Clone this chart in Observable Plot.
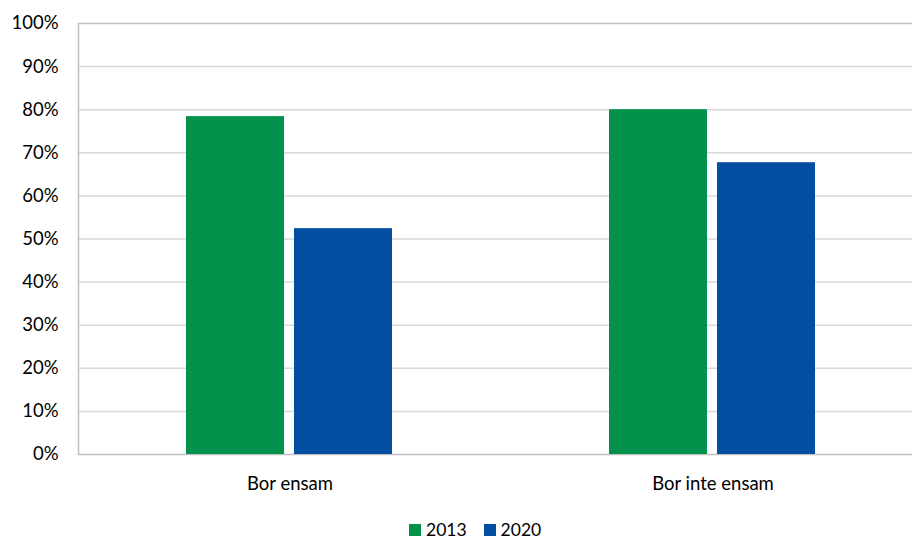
<!DOCTYPE html>
<html>
<head>
<meta charset="utf-8">
<script src="https://cdn.jsdelivr.net/npm/d3@7"></script>
<script src="https://cdn.jsdelivr.net/npm/@observablehq/plot@0.6"></script>
<style>
  html, body { margin: 0; padding: 0; background: #fff; overflow: hidden; }
  #wrap { position: relative; width: 912px; height: 541px; font-family: Lato, "Open Sans", sans-serif; }
  #wrap svg { position: absolute; left: 0; top: 0; }
  #legend { position: absolute; left: 409px; top: 521px; display: flex; align-items: center; font-size: 17.5px; line-height: 18px; color: #000; }
  .item { display: flex; align-items: center; margin-right: 17px; }
  .sw { width: 12px; height: 12px; margin-right: 5px; }
</style>
</head>
<body>
<div id="wrap"></div>
<script>
const categories = ["Bor ensam", "Bor inte ensam"];
const years = ["2013", "2020"];
const values2013 = [0.784, 0.800];
const values2020 = [0.524, 0.677];
const yTicks = [0, 0.1, 0.2, 0.3, 0.4, 0.5, 0.6, 0.7, 0.8, 0.9, 1.0];
const colors = ["#03924b", "#044ea2"];

const data = categories.flatMap((c, i) => [
  {category: c, year: years[0], value: values2013[i]},
  {category: c, year: years[1], value: values2020[i]}
]);

const W = 912, H = 500;
const common = {
  width: W, height: H,
  marginLeft: 78, marginRight: -12, marginTop: 23, marginBottom: 46
};

// Base layer: frame, grid, axes
const base = Plot.plot({
  ...common,
  style: {fontFamily: "Lato, 'Open Sans', sans-serif", fontSize: "18.5px", color: "#000", background: "transparent", overflow: "visible"},
  x: {type: "band", domain: categories, paddingInner: 0.511, paddingOuter: 0.2555, label: null, axis: null},
  y: {domain: [0, 1], label: null, axis: null},
  marks: [
    Plot.ruleY(yTicks.slice(1, -1), {stroke: "#d9d9d9", strokeWidth: 1.5}),
    Plot.frame({stroke: "#c0c0c0", strokeWidth: 1.5}),
    Plot.axisY(yTicks, {tickSize: 0, tickPadding: 20, tickFormat: d => Math.round(d * 100) + "%", label: null, fontSize: 18.5}),
    Plot.axisX({tickSize: 0, tickPadding: 22, label: null, fontSize: 18.5})
  ]
});

// Bar layer: grouped bars via facets
const bars = Plot.plot({
  ...common,
  style: {background: "transparent", overflow: "visible"},
  fx: {domain: categories, paddingInner: 0.511, paddingOuter: 0.2555, axis: null, label: null},
  x: {domain: years, paddingInner: 0.092, paddingOuter: 0, axis: null},
  y: {domain: [0, 1], axis: null},
  color: {domain: years, range: colors},
  marks: [
    Plot.barY(data, {fx: "category", x: "year", y: "value", fill: "year"})
  ]
});

const wrap = document.getElementById("wrap");
wrap.appendChild(base);
wrap.appendChild(bars);

const legend = document.createElement("div");
legend.id = "legend";
years.forEach((y, i) => {
  const it = document.createElement("div");
  it.className = "item";
  const sw = document.createElement("div");
  sw.className = "sw";
  sw.style.background = colors[i];
  const t = document.createElement("span");
  t.textContent = y;
  it.appendChild(sw);
  it.appendChild(t);
  legend.appendChild(it);
});
wrap.appendChild(legend);
</script>
</body>
</html>
